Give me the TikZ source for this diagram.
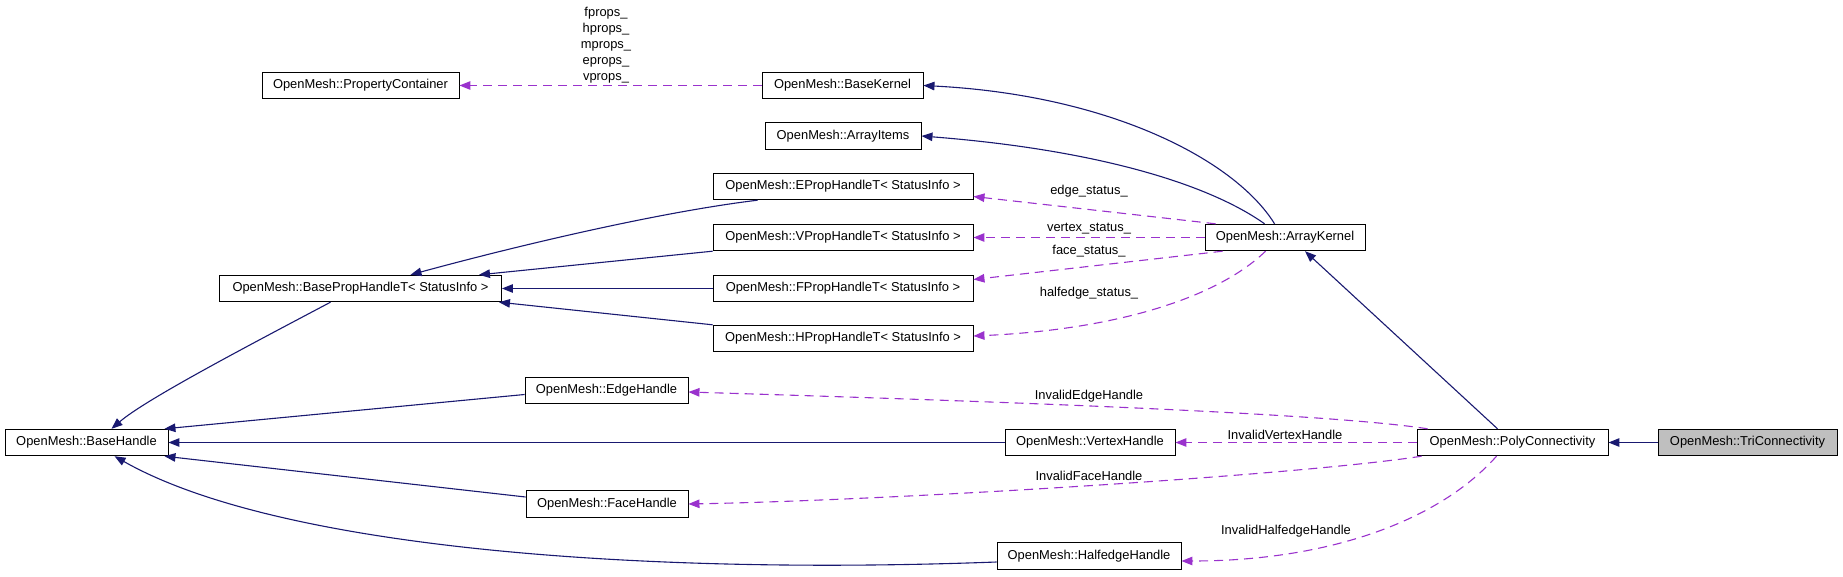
\documentclass[tikz,border=0pt]{standalone}
\usepackage{fontspec}
\setmainfont{Liberation Sans}
\usetikzlibrary{arrows.meta,calc}
\definecolor{navy}{HTML}{191970}
\definecolor{orchid}{HTML}{9A32CD}
\definecolor{nodegray}{HTML}{BFBFBF}
\begin{document}
\begin{tikzpicture}[x=1pt,y=-1pt,
  cls/.style={draw=black, line width=0.9pt, inner sep=0pt, minimum height=26.5pt, font=\fontsize{12.9}{15}\selectfont, fill=white},
  lbl/.style={inner sep=0pt, font=\fontsize{12.9}{16}\selectfont, align=center},
  inh/.style={draw=navy, line width=1.1pt, -{Triangle[length=11pt,width=8.5pt]}},
  use/.style={draw=orchid, line width=1.1pt, dash pattern=on 9pt off 6pt, -{Triangle[length=11pt,width=8.5pt]}}]
\useasboundingbox (0,0) rectangle (1843,577);
% nodes
\node[cls, minimum width=197pt] (PC) at (360.5,85.5) {OpenMesh::PropertyContainer};
\node[cls, minimum width=161pt] (BK) at (842.5,85.5) {OpenMesh::BaseKernel};
\node[cls, minimum width=156pt] (AI) at (843,136) {OpenMesh::ArrayItems};
\node[cls, minimum width=260pt] (EP) at (843,186.5) {OpenMesh::EPropHandleT< StatusInfo >};
\node[cls, minimum width=260pt] (VP) at (843,237.5) {OpenMesh::VPropHandleT< StatusInfo >};
\node[cls, minimum width=260pt] (FP) at (843,288.5) {OpenMesh::FPropHandleT< StatusInfo >};
\node[cls, minimum width=260pt] (HP) at (843,338.5) {OpenMesh::HPropHandleT< StatusInfo >};
\node[cls, minimum width=282pt] (BPH) at (360.5,288.5) {OpenMesh::BasePropHandleT< StatusInfo >};
\node[cls, minimum width=160pt] (AK) at (1285,237.5) {OpenMesh::ArrayKernel};
\node[cls, minimum width=163pt] (BH) at (86.5,442.5) {OpenMesh::BaseHandle};
\node[cls, minimum width=163pt] (EH) at (606.5,390.5) {OpenMesh::EdgeHandle};
\node[cls, minimum width=170pt] (VH) at (1090,442.5) {OpenMesh::VertexHandle};
\node[cls, minimum width=162pt] (FH) at (607,504) {OpenMesh::FaceHandle};
\node[cls, minimum width=184pt] (HH) at (1089,556) {OpenMesh::HalfedgeHandle};
\node[cls, minimum width=191pt] (PCo) at (1512.5,442.5) {OpenMesh::PolyConnectivity};
\node[cls, minimum width=179pt, fill=nodegray] (TC) at (1747.5,442.5) {OpenMesh::TriConnectivity};
% inheritance
\draw[inh] ($(AK.north west)+(70,0)$) .. controls (1235,160) and (1110,95) .. (BK.east);
\draw[inh] ($(AK.north west)+(60,0)$) .. controls (1210,185) and (1100,150) .. (AI.east);
\draw[inh] ($(PCo.north)+(-15,0)$) -- ($(AK.south)+(20,0)$);
\draw[inh] (TC.west) -- (PCo.east);
\draw[inh] ($(EP.south west)+(45,0)$) .. controls (660,212) and (520,245) .. ($(BPH.north)+(50,0)$);
\draw[inh] (VP.south west) -- ($(BPH.north east)+(-23,0)$);
\draw[inh] (FP.west) -- (BPH.east);
\draw[inh] (HP.north west) -- ($(BPH.south east)+(-3,0)$);
\draw[inh] ($(BPH.south)+(-30,0)$) .. controls (240,350) and (145,400) .. ($(BH.north)+(25,0)$);
\draw[inh] ($(EH.west)+(0,4)$) -- ($(BH.north east)+(-4,0)$);
\draw[inh] (VH.west) -- (BH.east);
\draw[inh] ($(FH.west)+(0,-7)$) -- ($(BH.south east)+(-4,0)$);
\draw[inh] ($(HH.west)+(0,6)$) .. controls (650,575) and (280,550) .. ($(BH.south)+(28,0)$);
% usage
\draw[use] (BK.west) -- (PC.east);
\draw[use] ($(AK.north west)+(11,0)$) -- ($(EP.east)+(0,10)$);
\draw[use] (AK.west) -- (VP.east);
\draw[use] ($(AK.south west)+(18,0)$) -- ($(FP.east)+(0,-9)$);
\draw[use] ($(AK.south west)+(61,0)$) .. controls (1215,300) and (1110,330) .. ($(HP.east)+(0,-2.5)$);
\draw[use] ($(PCo.north west)+(11,0)$) .. controls (1320,412) and (950,400) .. ($(EH.east)+(0,1.5)$);
\draw[use] (PCo.west) -- (VH.east);
\draw[use] ($(PCo.south west)+(5,0)$) .. controls (1300,475) and (900,500) .. (FH.east);
\draw[use] ($(PCo.south)+(-16,0)$) .. controls (1440,520) and (1330,561) .. ($(HH.east)+(0,5)$);
% labels
\node[lbl] (lprops) at (606,45) {fprops\_\\hprops\_\\mprops\_\\eprops\_\\vprops\_};
\node[lbl] (ledge) at (1089,191) {edge\_status\_};
\node[lbl] (lvert) at (1089,229) {vertex\_status\_};
\node[lbl] (lface) at (1089,251) {face\_status\_};
\node[lbl] (lhalf) at (1089,293) {halfedge\_status\_};
\node[lbl] (lie) at (1089,396) {InvalidEdgeHandle};
\node[lbl] (liv) at (1285,435) {InvalidVertexHandle};
\node[lbl] (lif) at (1089,476) {InvalidFaceHandle};
\node[lbl] (lih) at (1286,531) {InvalidHalfedgeHandle};
\end{tikzpicture}
\end{document}
